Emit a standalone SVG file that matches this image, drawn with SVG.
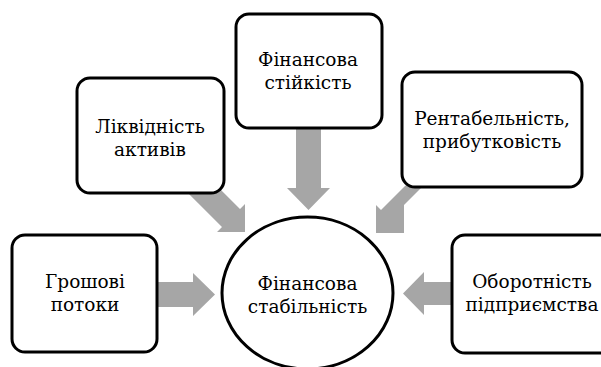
<svg xmlns="http://www.w3.org/2000/svg" width="601" height="367" viewBox="0 0 601 367">
<style>
.box{fill:#fff;stroke:#000;stroke-width:3}
.arr{fill:#a6a6a6;stroke:none}
.t{font-family:'DejaVu Serif',serif;font-size:18.5px;fill:#000;text-anchor:middle}
</style>
<rect width="601" height="367" fill="#fff"/>
<g id="connectors">
<polygon class="arr" points="158,282 193,282 193,273 215,294.5 193,316 193,307 158,307"/>
<polygon class="arr" points="453,282 424,282 424,272 403,293.5 424,315 424,305 453,305"/>
<polygon class="arr" points="296,126 321,126 321,188 330,188 308.5,210 287,188 296,188"/>
<polygon class="arr" points="199.2,168.2 240,209 245,204 245,232 217,232 222,227 181.2,186.2"/>
<polygon class="arr" points="437,172 399,210 404,205 404,233 376,233 376,205 381,210 419,172"/>
</g>
<g id="node-liquidity">
<rect class="box" x="77" y="78" width="147" height="115" rx="13"/>
<text class="t" x="150" y="133">Ліквідність</text>
<text class="t" x="150" y="156">активів</text>
</g>
<g id="node-stability-top">
<rect class="box" x="236" y="14" width="146" height="114" rx="13"/>
<text class="t" x="308" y="66">Фінансова</text>
<text class="t" x="308" y="89">стійкість</text>
</g>
<g id="node-profit">
<rect class="box" x="402" y="72" width="180" height="115" rx="13"/>
<text class="t" x="492" y="125">Рентабельність,</text>
<text class="t" x="492" y="148">прибутковість</text>
</g>
<g id="node-cash">
<rect class="box" x="12" y="235" width="145" height="117" rx="13"/>
<text class="t" x="85" y="288">Грошові</text>
<text class="t" x="85" y="311">потоки</text>
</g>
<g id="node-turnover">
<rect class="box" x="452" y="235" width="165" height="118" rx="13"/>
<text class="t" x="532" y="288">Оборотність</text>
<text class="t" x="532" y="311">підприємства</text>
</g>
<g id="node-center">
<ellipse class="box" cx="307.5" cy="293" rx="85.5" ry="76"/>
<text class="t" x="307.5" y="290">Фінансова</text>
<text class="t" x="307.5" y="313">стабільність</text>
</g>
</svg>
